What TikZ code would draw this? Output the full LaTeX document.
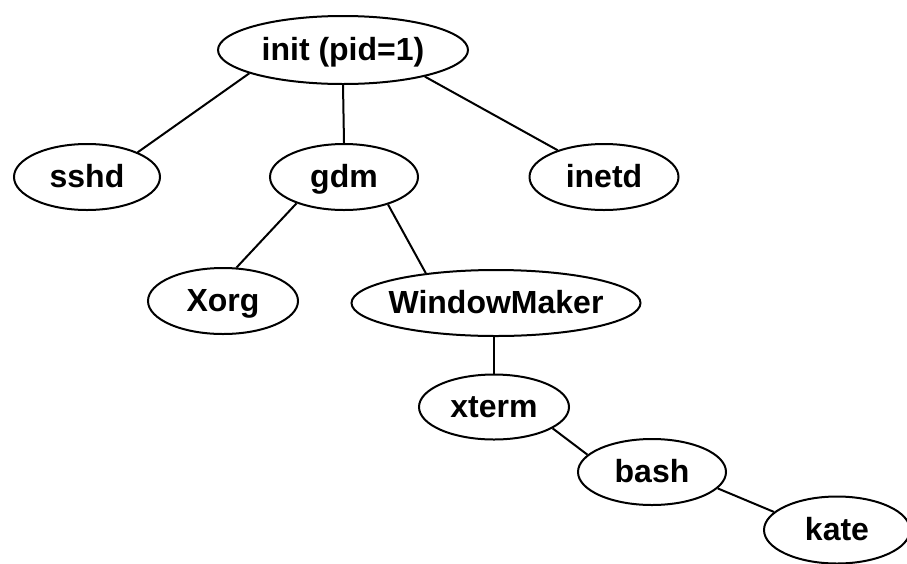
\documentclass[tikz,border=0pt]{standalone}
\usepackage{fontspec}
\setmainfont{Liberation Sans}
\tikzset{
  proc/.style={draw, ellipse, line width=2pt, inner sep=0pt,
    minimum height=66pt, text height=20pt, text depth=0pt,
    font=\fontsize{32}{32}\selectfont\bfseries},
  link/.style={line width=2pt}
}
\usetikzlibrary{shapes.geometric}
\begin{document}
\begin{tikzpicture}[x=1pt,y=-1pt]
            \useasboundingbox (0,0) rectangle (907,563);
            % processes
            \node[proc, minimum width=250pt, minimum height=68pt] (init) at (343,50) {init (pid=1)};
            \node[proc, minimum width=146pt] (sshd) at (87,177) {sshd};
            \node[proc, minimum width=148pt] (gdm) at (344,177) {gdm};
            \node[proc, minimum width=149pt] (inetd) at (604,177) {inetd};
            \node[proc, minimum width=150pt] (xorg) at (223,301) {Xorg};
            \node[proc, minimum width=289pt, inner xsep=-6pt] (wmaker) at (496,303) {WindowMaker};
            \node[proc, minimum width=150pt, minimum height=65pt] (xterm) at (494,407) {xterm};
            \node[proc, minimum width=148pt] (bash) at (652,472) {bash};
            \node[proc, minimum width=146pt, minimum height=67pt] (kate) at (837,530) {kate};
            % parent -- child
            \draw[link] (init.194) -- (sshd.26);
            \draw[link] (init.south) -- (gdm.north);
            \draw[link] (init.342) -- (inetd.150);
            \draw[link] (gdm.209) -- (xorg.68);
            \draw[link] (gdm.328) -- (wmaker.157);
            \draw[link] (wmaker.south -| xterm.north) -- (xterm.north);
            \draw[link] (xterm.340) -- (bash.165);
            \draw[link] (bash.346) -- (kate.164);
         \end{tikzpicture}
\end{document}
